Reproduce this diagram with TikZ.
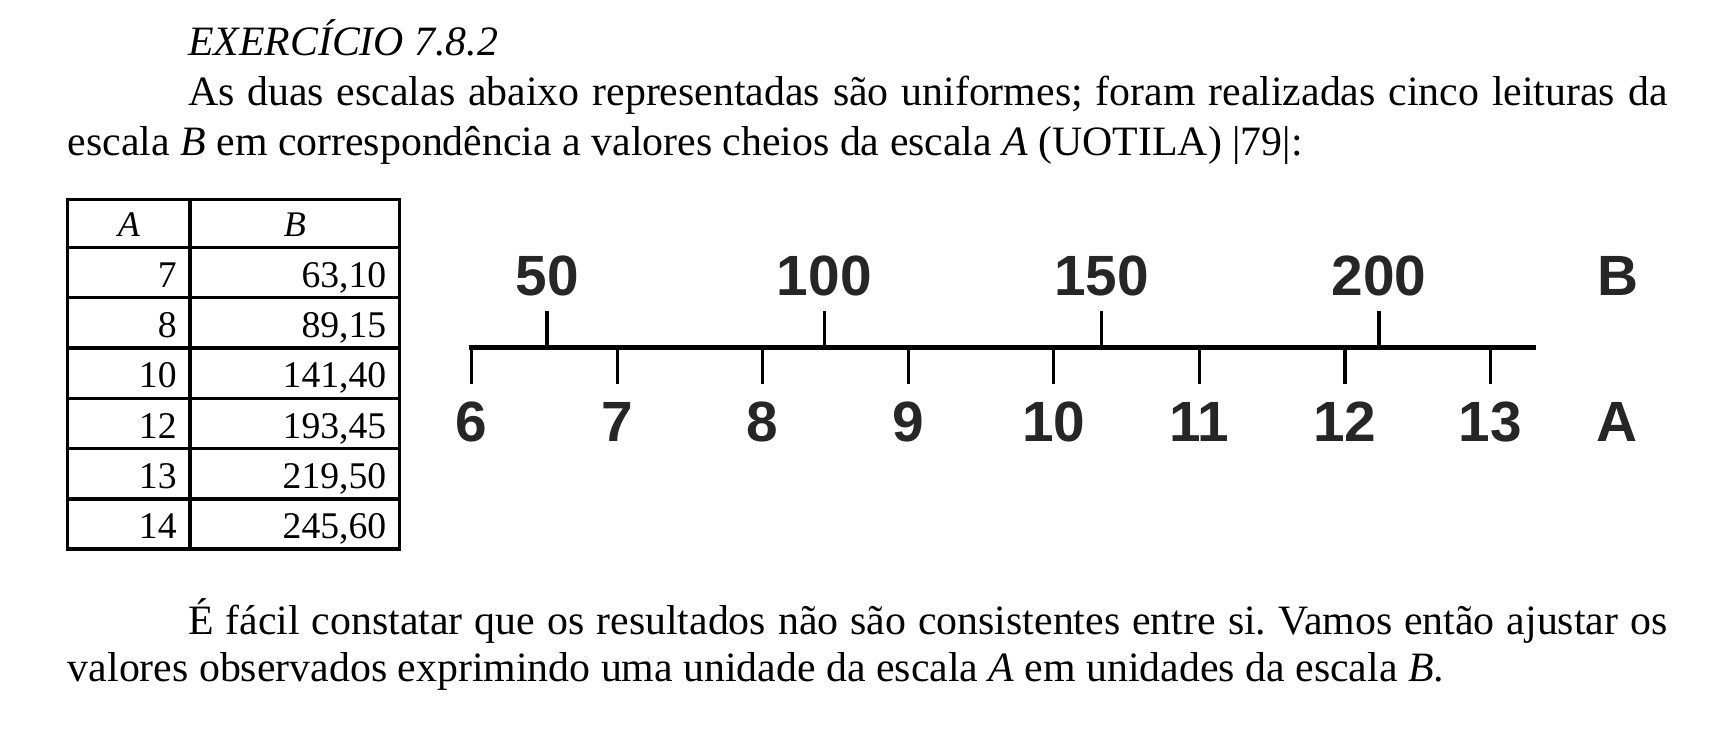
\documentclass[tikz,border=0pt]{standalone}
\usepackage{fontspec}
\setmainfont{Liberation Serif}
\newfontfamily\scalesans{Liberation Sans}
\frenchspacing
\tikzset{
  bodytext/.style={anchor=base west, inner sep=0pt, font=\fontsize{38.3}{45}\selectfont},
  cell/.style={anchor=base east, inner sep=0pt, font=\fontsize{34.5}{40}\selectfont},
  headcell/.style={anchor=base, inner sep=0pt, font=\fontsize{33}{36}\selectfont\itshape},
  grid/.style={line width=3.2pt},
  axis/.style={line width=4.5pt},
  tick/.style={line width=3pt},
  scalelabel/.style={anchor=base, inner sep=0pt, text=black!85, font=\fontsize{52}{60}\scalesans\bfseries\selectfont}
}
\begin{document}
\begin{tikzpicture}[x=1pt,y=-1pt]
\useasboundingbox[fill=white] (0,0) rectangle (1568,674);
% text
\node[bodytext] (title) at (172,51) {\itshape EXERCÍCIO 7.8.2};
\node[bodytext] (l1) at (172,97) {\makebox[1355pt][s]{As duas escalas abaixo representadas são uniformes; foram realizadas cinco leituras da}};
\node[bodytext] (l2) at (62,142) {escala \textit{B} em correspondência a valores cheios da escala \textit{A} (UOTILA) |79|:};
\node[bodytext] (l3) at (172,581) {\makebox[1355pt][s]{É fácil constatar que os resultados não são consistentes entre si. Vamos então ajustar os}};
\node[bodytext] (l4) at (62,624) {valores observados exprimindo uma unidade da escala \textit{A} em unidades da escala \textit{B}.};
% table
\draw[grid] (62,182.5) rectangle (366,503);
\draw[grid] (174,182.5) -- (174,503);
\foreach \y in {226.5,272.6,318.7,364.8,410.9,457} \draw[grid] (62,\y) -- (366,\y);
\node[headcell] (hA) at (118,217) {A};
\node[headcell] (hB) at (270,217) {B};
\foreach \a/\b [count=\i from 0] in {7/{63,10},8/{89,15},10/{141,40},12/{193,45},13/{219,50},14/{245,60}} {
  \node[cell] (a\i) at (162,263+46.1*\i) {\a};
  \node[cell] (b\i) at (354,263+46.1*\i) {\b};
}
% scales
\draw[axis] (430,318) -- (1407,318);
\foreach \k [count=\i from 0] in {6,...,13} {
  \draw[tick] (432+133.3*\i,318) -- (432+133.3*\i,352);
  \node[scalelabel] (A\k) at (432+133.3*\i,404) {\k};
}
\foreach \v [count=\i from 0] in {50,100,150,200} {
  \draw[tick] (501+254*\i,318) -- (501+254*\i,285);
  \node[scalelabel] (B\v) at (501+254*\i,271) {\v};
}
\node[scalelabel] (Aname) at (1481,404) {A};
\node[scalelabel] (Bname) at (1482,271) {B};
\end{tikzpicture}
\end{document}
